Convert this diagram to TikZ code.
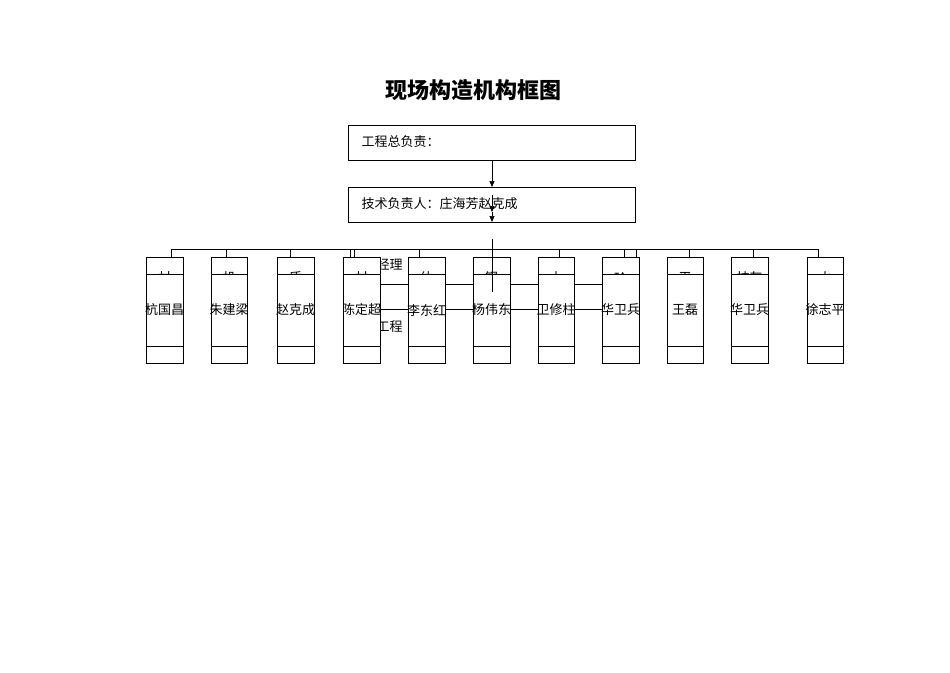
\documentclass[tikz,border=0pt]{standalone}
\usepackage{fontspec}
\setmainfont{Liberation Serif}
\newfontfamily\cjk{Noto Sans CJK SC}
\usetikzlibrary{arrows.meta}
\begin{document}
\begin{tikzpicture}[x=1pt,y=-1pt,line width=0.7pt,
  mainbox/.style={draw,fill=white,anchor=north west,inner sep=0pt},
  lbl/.style={font=\cjk\fontsize{13}{15}\selectfont},
  arr/.style={-{Triangle[length=6pt,width=5pt]}}]
\useasboundingbox (0,0) rectangle (950,672);
\node[font=\cjk\bfseries\fontsize{22}{26}\selectfont] (title) at (473,90) {现场构造机构框图};
\node[mainbox,minimum width=287pt,minimum height=35pt] (gm) at (348,125) {};
\node[lbl,anchor=west] (gmt) at (358,142) {工程总负责：};
\node[mainbox,minimum width=287pt,minimum height=35pt] (tm) at (348,187) {};
\node[lbl,anchor=west] (tmt) at (358,204) {技术负责人：庄海芳赵克成};
\draw[arr] (gm.south -| 492,0) -- (tm.north -| 492,0);
\coordinate (a1) at (492,195);
\coordinate (a2) at (492,212);
\coordinate (a3) at (492,222);
\draw[arr] (a1) -- (a2);
\draw[arr] (a2) -- (a3);
\coordinate (bt) at (492,239);
\coordinate (bb) at (492,292);
% bus
\coordinate (busL) at (171,249);
\coordinate (busR) at (818,249);
\draw (busL) -- (busR);
\coordinate (r1) at (350,249); \coordinate (r2) at (636,249);
% middle texts (behind boxes)
\node[lbl,anchor=west] (m1) at (360,265) {程经理};
\node[lbl,anchor=west] (m2) at (360,327) {程工程};
\foreach \i/\x/\w/\h/\n in {1/146/37/材/杭国昌,2/211/36/机/朱建梁,3/277/37/质/赵克成,4/343/37/材/陈定超,5/408/37/估/李东红,6/473/37/钢/杨伟东,7/538/36/木/卫修柱,8/602/37/砼/华卫兵,9/667/36/平/王磊,10/731/37/抹灰/华卫兵,11/807/36/水/徐志平}{
  \node[mainbox,minimum width=\w pt,minimum height=106pt] (b\i) at (\x,257) {};
  \draw (\x,274) -- ++(\w,0) (\x,346) -- ++(\w,0);
  \begin{scope}
    \clip (\x,257) rectangle ++(\w,17);
    \node[lbl,inner sep=0pt] (h\i) at (\x+\w/2,278) {\h};
  \end{scope}
  \node[lbl,align=center,font=\cjk\fontsize{13}{20.5}\selectfont] (n\i) at (\x+\w/2,310) {\n};
}
\foreach \i/\x in {1/171,2/226,3/290,4/354,5/419,7/559,8/624,9/689,10/753,11/818}{
  \draw (\x,249) -- (b\i.north -| \x,0);
}
\draw (r1) -- (b4.north -| r1);
\draw (r2) -- (b8.north -| r2);
\foreach \a/\b in {4/5,5/6,6/7,7/8}{
  \draw (b\a.east |- 0,284) -- (b\b.west |- 0,284);
  \draw (b\a.east |- 0,309) -- (b\b.west |- 0,309);
}
\draw (bt) -- (bb);
\end{tikzpicture}
\end{document}
